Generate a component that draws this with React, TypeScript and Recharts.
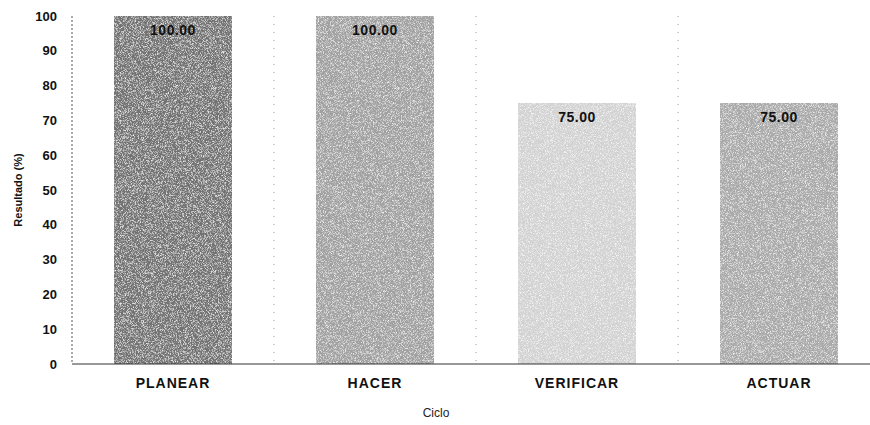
import { Bar, BarChart, CartesianGrid, Cell, LabelList, XAxis, YAxis } from "recharts";

const ciclos = ["PLANEAR", "HACER", "VERIFICAR", "ACTUAR"];
const resultados = [100, 100, 75, 75];
const yTicks = [0, 10, 20, 30, 40, 50, 60, 70, 80, 90, 100];
const tonos = ["#727272", "#a0a0a0", "#d2d2d2", "#a9a9a9"];

const data = ciclos.map((c, i) => ({ ciclo: c, valor: resultados[i] }));

const font = "Arial, 'Liberation Sans', sans-serif";

export default function App() {
  return (
    <div style={{ position: "absolute", left: 0, top: 0, width: 870, height: 425, overflow: "hidden", background: "#fff" }}>
      <BarChart
        width={882}
        height={425}
        data={data}
        margin={{ top: 16, right: 2, left: 0, bottom: 0 }}
        barSize={118}
      >
        <defs>
          <filter id="grano" x="0" y="0" width="100%" height="100%">
            <feTurbulence type="fractalNoise" baseFrequency="1.4" numOctaves="2" seed="3" result="n" />
            <feColorMatrix
              in="n"
              type="matrix"
              values="0 0 0 0 1  0 0 0 0 1  0 0 0 0 1  2.2 0 0 0 -1"
              result="g"
            />
            <feComposite in="g" in2="SourceGraphic" operator="in" result="m" />
            <feMerge>
              <feMergeNode in="SourceGraphic" />
              <feMergeNode in="m" />
            </feMerge>
          </filter>
        </defs>
        <CartesianGrid
          horizontal={false}
          stroke="#9a9a9a"
          strokeDasharray="1 7"
          verticalCoordinatesGenerator={({ offset }: any) =>
            [1, 2, 3].map((i) => offset.left + (i * offset.width) / ciclos.length)
          }
        />
        <XAxis
          dataKey="ciclo"
          height={61}
          axisLine={{ stroke: "#333", strokeWidth: 1 }}
          tickLine={false}
          tick={{ fill: "#111", fontSize: 14, fontWeight: "bold", fontFamily: font, letterSpacing: 1 }}
          tickMargin={8}
          label={{
            value: "Ciclo",
            position: "insideBottom",
            offset: 8,
            dx: -40,
            fill: "#222",
            fontSize: 12,
            fontFamily: font,
          }}
        />
        <YAxis
          width={72}
          domain={[0, 100]}
          ticks={yTicks}
          interval={0}
          axisLine={{ stroke: "#555", strokeDasharray: "2 2" }}
          tickLine={false}
          tickMargin={9}
          tick={{ fill: "#111", fontSize: 13, fontWeight: "bold", fontFamily: font }}
          label={{
            value: "Resultado (%)",
            angle: -90,
            position: "insideLeft",
            offset: 18,
            style: { textAnchor: "middle", fill: "#111", fontSize: 11, fontWeight: "bold", fontFamily: font },
          }}
        />
        <Bar dataKey="valor" isAnimationActive={false}>
          {data.map((d, i) => (
            <Cell key={d.ciclo} fill={tonos[i]} filter="url(#grano)" />
          ))}
          <LabelList
            dataKey="valor"
            position="insideTop"
            offset={9}
            formatter={(v: any) => Number(v).toFixed(2)}
            style={{ fill: "#111", fontSize: 14, fontWeight: "bold", fontFamily: font, letterSpacing: 0.5 }}
          />
        </Bar>
      </BarChart>
    </div>
  );
}
